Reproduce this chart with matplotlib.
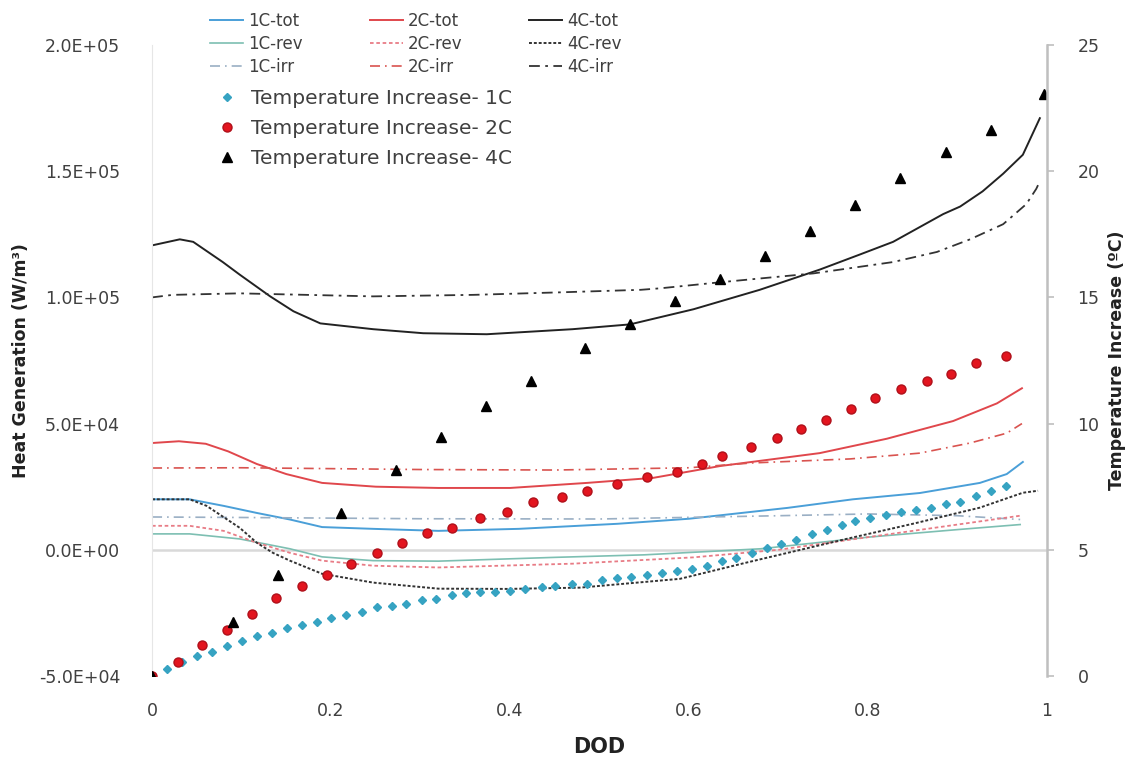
import matplotlib
matplotlib.use("Agg")
import matplotlib.pyplot as plt

# heat generation curves (DOD, W/m3)
dod_1c_tot = [0, 0.042, 0.08, 0.117, 0.154, 0.19, 0.247, 0.32, 0.41, 0.52, 0.6, 0.71, 0.783, 0.858, 0.925, 0.955, 0.973]
q_1c_tot = [0.2e5, 0.2e5, 0.174e5, 0.146e5, 0.12e5, 0.09e5, 0.083e5, 0.075e5, 0.083e5, 0.103e5, 0.123e5,
            0.166e5, 0.2e5, 0.225e5, 0.265e5, 0.30e5, 0.348e5]
dod_1c_rev = [0, 0.042, 0.098, 0.154, 0.19, 0.247, 0.32, 0.45, 0.55, 0.68, 0.8, 0.9, 0.97]
q_1c_rev = [0.063e5, 0.063e5, 0.043e5, 0.004e5, -0.028e5, -0.043e5, -0.045e5, -0.03e5, -0.02e5, 0.004e5,
            0.05e5, 0.08e5, 0.10e5]
dod_1c_irr = [0, 0.1, 0.3, 0.5, 0.7, 0.8, 0.9, 0.97]
q_1c_irr = [0.13e5, 0.128e5, 0.123e5, 0.122e5, 0.135e5, 0.142e5, 0.135e5, 0.12e5]

dod_2c_tot = [0, 0.03, 0.06, 0.085, 0.117, 0.15, 0.19, 0.25, 0.32, 0.40, 0.486, 0.56, 0.635, 0.746, 0.821,
              0.895, 0.944, 0.972]
q_2c_tot = [0.423e5, 0.43e5, 0.42e5, 0.39e5, 0.34e5, 0.30e5, 0.265e5, 0.25e5, 0.245e5, 0.245e5, 0.265e5,
            0.285e5, 0.332e5, 0.383e5, 0.44e5, 0.51e5, 0.58e5, 0.64e5]
dod_2c_rev = [0, 0.042, 0.08, 0.117, 0.154, 0.19, 0.247, 0.32, 0.47, 0.605, 0.7, 0.8, 0.9, 0.97]
q_2c_rev = [0.095e5, 0.095e5, 0.075e5, 0.028e5, -0.012e5, -0.043e5, -0.063e5, -0.07e5, -0.055e5, -0.03e5,
            0.0, 0.05e5, 0.10e5, 0.135e5]
dod_2c_irr = [0, 0.1, 0.3, 0.45, 0.6, 0.67, 0.78, 0.858, 0.914, 0.955, 0.972]
q_2c_irr = [0.324e5, 0.325e5, 0.318e5, 0.316e5, 0.325e5, 0.344e5, 0.36e5, 0.383e5, 0.423e5, 0.462e5, 0.50e5]

dod_4c_tot = [0, 0.031, 0.046, 0.079, 0.098, 0.132, 0.158, 0.188, 0.247, 0.303, 0.374, 0.47, 0.534, 0.605,
              0.679, 0.746, 0.791, 0.828, 0.884, 0.903, 0.928, 0.951, 0.973, 0.992]
q_4c_tot = [1.206e5, 1.23e5, 1.22e5, 1.14e5, 1.09e5, 1.004e5, 0.945e5, 0.897e5, 0.874e5, 0.858e5, 0.854e5,
            0.874e5, 0.893e5, 0.953e5, 1.03e5, 1.11e5, 1.17e5, 1.22e5, 1.33e5, 1.36e5, 1.42e5, 1.49e5,
            1.565e5, 1.71e5]
dod_4c_rev = [0, 0.042, 0.061, 0.098, 0.117, 0.135, 0.154, 0.19, 0.247, 0.32, 0.397, 0.478, 0.59, 0.665,
              0.777, 0.85, 0.925, 0.973, 0.99]
q_4c_rev = [0.2e5, 0.2e5, 0.174e5, 0.087e5, 0.028e5, -0.012e5, -0.043e5, -0.095e5, -0.13e5, -0.154e5,
            -0.155e5, -0.15e5, -0.115e5, -0.05e5, 0.044e5, 0.103e5, 0.167e5, 0.226e5, 0.234e5]
dod_4c_irr = [0, 0.023, 0.098, 0.247, 0.359, 0.456, 0.546, 0.568, 0.635, 0.739, 0.828, 0.877, 0.914, 0.951,
              0.977, 0.988, 0.992]
q_4c_irr = [1.0e5, 1.01e5, 1.016e5, 1.004e5, 1.01e5, 1.02e5, 1.03e5, 1.036e5, 1.06e5, 1.095e5, 1.14e5,
            1.18e5, 1.23e5, 1.29e5, 1.37e5, 1.43e5, 1.46e5]

# temperature increase points (DOD, degC)
dod_t1 = [0, .017, .034, .050, .067, .084, .101, .117, .134, .151, .168, .184, .200, .217, .235, .251, .268,
          .284, .302, .317, .335, .351, .367, .383, .400, .417, .436, .450, .469, .486, .503, .520, .535, .553,
          .570, .587, .603, .620, .637, .653, .670, .687, .703, .720, .737, .754, .771, .786, .802, .820, .837,
          .854, .870, .887, .903, .921, .937, .954]
t_1c = [0, .28, .55, .79, .95, 1.19, 1.39, 1.59, 1.71, 1.9, 2.02, 2.14, 2.3, 2.42, 2.54, 2.74, 2.78, 2.86,
        3.0, 3.06, 3.2, 3.28, 3.33, 3.33, 3.37, 3.45, 3.53, 3.57, 3.65, 3.65, 3.8, 3.89, 3.93, 4.0, 4.09, 4.17,
        4.25, 4.37, 4.54, 4.68, 4.88, 5.08, 5.24, 5.4, 5.63, 5.79, 5.99, 6.15, 6.27, 6.39, 6.5, 6.59, 6.67,
        6.83, 6.9, 7.14, 7.34, 7.54]
dod_t2 = [0, .029, .056, .084, .112, .139, .168, .196, .222, .251, .279, .307, .335, .367, .397, .426, .458,
          .486, .520, .553, .587, .615, .637, .669, .698, .725, .753, .781, .808, .837, .866, .893, .921, .954]
t_2c = [0, .56, 1.23, 1.83, 2.46, 3.1, 3.57, 4.0, 4.44, 4.88, 5.28, 5.65, 5.87, 6.27, 6.5, 6.9, 7.1, 7.34,
        7.62, 7.9, 8.1, 8.4, 8.73, 9.09, 9.44, 9.8, 10.16, 10.56, 11.0, 11.39, 11.7, 11.98, 12.4, 12.66]
dod_t4 = [0, .091, .141, .211, .273, .323, .373, .423, .484, .534, .584, .635, .685, .735, .785, .836, .887,
          .937, .997]
t_4c = [0, 2.14, 4.0, 6.47, 8.17, 9.48, 10.71, 11.7, 13.0, 13.93, 14.84, 15.71, 16.63, 17.62, 18.65, 19.72,
        20.75, 21.63, 23.05]

x_ticks = [0, 0.2, 0.4, 0.6, 0.8, 1]
x_tick_labels = ["0", "0.2", "0.4", "0.6", "0.8", "1"]
y_ticks = [-5e4, 0, 5e4, 1e5, 1.5e5, 2e5]
y_tick_labels = ["-5.0E+04", "0.0E+00", "5.0E+04", "1.0E+05", "1.5E+05", "2.0E+05"]
t_ticks = [0, 5, 10, 15, 20, 25]

c_blue = "#4A9FD8"
c_teal = "#7DBFB2"
c_blue_irr = "#9AAFC4"
c_red = "#E0474C"
c_red_rev = "#E87C86"
c_red_irr = "#D9534F"
txt = "#404040"

fig = plt.figure(figsize=(11.33, 7.61), dpi=100)
ax = fig.add_axes([0.1342, 0.1117, 0.9241 - 0.1342, 0.9409 - 0.1117])
ax2 = ax.twinx()

ax.axhline(0, color="#D9D9D9", lw=1.8, zorder=1)

h = []
h += ax.plot(dod_1c_tot, q_1c_tot, color=c_blue, lw=1.4, label="1C-tot")
h += ax.plot(dod_1c_rev, q_1c_rev, color=c_teal, lw=1.2, label="1C-rev")
h += ax.plot(dod_1c_irr, q_1c_irr, color=c_blue_irr, lw=1.2, ls=(0, (6, 3, 1, 3)), label="1C-irr")
h += ax.plot(dod_2c_tot, q_2c_tot, color=c_red, lw=1.4, label="2C-tot")
h += ax.plot(dod_2c_rev, q_2c_rev, color=c_red_rev, lw=1.3, ls=(0, (2, 1.5)), label="2C-rev")
h += ax.plot(dod_2c_irr, q_2c_irr, color=c_red_irr, lw=1.2, ls=(0, (6, 3, 1, 3)), label="2C-irr")
h += ax.plot(dod_4c_tot, q_4c_tot, color="#222222", lw=1.4, label="4C-tot")
h += ax.plot(dod_4c_rev, q_4c_rev, color="#333333", lw=1.4, ls=(0, (1.5, 1)), label="4C-rev")
h += ax.plot(dod_4c_irr, q_4c_irr, color="#333333", lw=1.3, ls=(0, (6, 3, 1.5, 3)), label="4C-irr")

m1, = ax2.plot(dod_t1, t_1c, ls="none", marker="D", ms=4.5, color="#36A3C2", label="Temperature Increase- 1C")
m2, = ax2.plot(dod_t2, t_2c, ls="none", marker="o", ms=6.5, color="#E3151F", mec="#B0101A",
               label="Temperature Increase- 2C")
m3, = ax2.plot(dod_t4, t_4c, ls="none", marker="^", ms=7, color="black", label="Temperature Increase- 4C")

ax.set_xlim(0, 1)
ax.set_ylim(-5e4, 2e5)
ax2.set_ylim(0, 25)

ax.set_xticks(x_ticks)
ax.set_xticklabels(x_tick_labels)
ax.set_yticks(y_ticks)
ax.set_yticklabels(y_tick_labels)
ax2.set_yticks(t_ticks)

for a in (ax, ax2):
    for s in ("top", "bottom"):
        a.spines[s].set_visible(False)
ax.spines["right"].set_visible(False)
ax.spines["left"].set_color("#E6E6E6")
ax2.spines["left"].set_visible(False)
ax2.spines["right"].set_color("#BFBFBF")
ax2.spines["right"].set_linewidth(1.8)

ax.tick_params(axis="x", length=0, pad=19, labelsize=12.5, labelcolor=txt)
ax.tick_params(axis="y", length=0, pad=23, labelsize=12.5, labelcolor=txt)
ax2.tick_params(axis="y", length=5, width=1.2, color="#BFBFBF", pad=17, labelsize=12.5, labelcolor=txt)

ax.set_xlabel("DOD", fontsize=15, fontweight="bold", color="#222222", labelpad=12)
ax.set_ylabel("Heat Generation (W/m³)", fontsize=12.5, fontweight="bold", color="#222222", labelpad=6)
ax2.set_ylabel("Temperature Increase (ºC)", fontsize=12.5, fontweight="bold", color="#222222", labelpad=6)

leg1 = fig.legend(handles=h, ncol=3, loc="upper left", bbox_to_anchor=(0.172, 1.004), frameon=False,
                  fontsize=12, handlelength=2.0, handletextpad=0.3, columnspacing=4.0,
                  labelspacing=0.3, labelcolor=txt)
leg2 = fig.legend(handles=[m1, m2, m3], loc="upper left", bbox_to_anchor=(0.172, 0.907), frameon=False,
                  fontsize=14.5, handlelength=1.4, handletextpad=0.5, labelspacing=0.55, labelcolor=txt)

fig.savefig("out.png", dpi=100)
